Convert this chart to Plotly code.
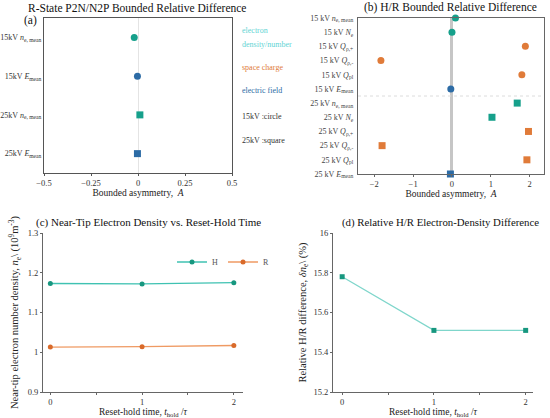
import plotly.graph_objects as go
from plotly.subplots import make_subplots

W, H = 550, 418
SERIF = "Liberation Serif"

# (a) R-State P2N/N2P bounded relative difference
a_labels = ["15kV <i>n</i><sub>e, mean</sub>", "15kV <i>E</i><sub>mean</sub>",
            "25kV <i>n</i><sub>e, mean</sub>", "25kV <i>E</i><sub>mean</sub>"]
a_values = [-0.02, -0.003, 0.01, -0.003]
a_kind = ["ne", "E", "ne", "E"]
a_kv = ["15", "15", "25", "25"]

# (b) H/R bounded relative difference
b_labels = ["15 kV <i>n</i><sub>e, mean</sub>", "15 kV <i>N</i><sub>e</sub>",
            "15 kV <i>Q</i><sub>ρ,+</sub>", "15 kV <i>Q</i><sub>ρ,-</sub>",
            "15 kV <i>Q</i><sub>pl</sub>", "15 kV <i>E</i><sub>mean</sub>",
            "25 kV <i>n</i><sub>e, mean</sub>", "25 kV <i>N</i><sub>e</sub>",
            "25 kV <i>Q</i><sub>ρ,+</sub>", "25 kV <i>Q</i><sub>ρ,-</sub>",
            "25 kV <i>Q</i><sub>pl</sub>", "25 kV <i>E</i><sub>mean</sub>"]
b_values = [0.09, 0.0, 1.89, -1.83, 1.80, -0.03, 1.68, 1.03, 1.97, -1.80, 1.93, -0.04]
b_kind = ["ne", "ne", "Q", "Q", "Q", "E", "ne", "ne", "Q", "Q", "Q", "E"]
b_kv = ["15"] * 6 + ["25"] * 6

# (c) near-tip electron density vs reset-hold time
hold_time = [0, 1, 2]
density_h = [1.173, 1.172, 1.175]
density_r = [1.013, 1.014, 1.017]

# (d) relative H/R electron-density difference (%)
rel_diff = [15.78, 15.51, 15.51]

# key text beside panel (a)
key_text = ["electron", "density/number", "space charge", "electric field",
            "15kV :circle", "25kV :square"]
key_kind = ["ne_txt", "ne_txt", "Q", "E", "txt", "txt"]

kind_color = {"ne": "#16a08b", "Q": "#e07b39", "E": "#2c6ba5",
              "ne_txt": "#63d4d4", "txt": "#333333"}
kv_symbol = {"15": "circle", "25": "square"}


def px(x):
    return x / W


def py(y):
    return 1 - y / H


fig = make_subplots(rows=2, cols=2)

fig.add_trace(go.Scatter(
    x=a_values, y=a_labels, mode="markers", showlegend=False,
    marker=dict(size=7, color=[kind_color[k] for k in a_kind],
                symbol=[kv_symbol[v] for v in a_kv])), 1, 1)

fig.add_trace(go.Scatter(
    x=b_values, y=b_labels, mode="markers", showlegend=False, cliponaxis=False,
    marker=dict(size=7, color=[kind_color[k] for k in b_kind],
                symbol=[kv_symbol[v] for v in b_kv])), 1, 2)

fig.add_trace(go.Scatter(
    x=hold_time, y=density_h, mode="lines+markers", name="H",
    line=dict(color="#3fc2b2", width=1.3),
    marker=dict(size=5, color="#17977f")), 2, 1)
fig.add_trace(go.Scatter(
    x=hold_time, y=density_r, mode="lines+markers", name="R",
    line=dict(color="#ef9a63", width=1.3),
    marker=dict(size=5, color="#d96a2a")), 2, 1)

fig.add_trace(go.Scatter(
    x=hold_time, y=rel_diff, mode="lines+markers", showlegend=False,
    line=dict(color="#7fd6cb", width=1.3),
    marker=dict(size=5, symbol="square", color="#17977f")), 2, 2)

tickfont = dict(family=SERIF, size=8.5, color="#333")
titlefont = dict(family=SERIF, size=9.5, color="#222")
common = dict(automargin=False, showgrid=False)

# panel (a)
fig.update_xaxes(row=1, col=1, domain=[px(44), px(232)], range=[-0.5, 0.5],
                 tickvals=[-0.5, -0.25, 0, 0.25, 0.5],
                 ticktext=["−0.5", "−0.25", "0", "0.25", "0.5"],
                 showline=True, linecolor="#555", linewidth=1, mirror=True,
                 ticks="outside", ticklen=2, tickcolor="#555",
                 zeroline=True, zerolinecolor="#e4e4e4", zerolinewidth=1,
                 tickfont=tickfont, **common,
                 title=dict(text="Bounded asymmetry,  <i>A</i>", font=titlefont, standoff=0))
fig.update_yaxes(row=1, col=1, domain=[py(173), py(18)], type="category",
                 range=[len(a_labels) - 0.5, -0.5],
                 showline=True, linecolor="#555", linewidth=1, mirror=True,
                 ticks="", tickfont=dict(family=SERIF, size=8, color="#333"), **common)

# panel (b)
fig.update_xaxes(row=1, col=2, domain=[px(358), px(544)], range=[-2.42, 2.37],
                 tickvals=[-2, -1, 0, 1, 2], ticktext=["−2", "−1", "0", "1", "2"],
                 showline=True, linecolor="#666", linewidth=1.3, mirror=True,
                 ticks="outside", ticklen=2, tickcolor="#666",
                 zeroline=True, zerolinecolor="#c6c6c6", zerolinewidth=3,
                 tickfont=tickfont, **common,
                 title=dict(text="Bounded asymmetry,  <i>A</i>", font=titlefont, standoff=0))
fig.update_yaxes(row=1, col=2, domain=[py(174), py(18)], type="category",
                 range=[len(b_labels) - 1, 0],
                 showline=True, linecolor="#666", linewidth=1.3, mirror=True,
                 ticks="", ticklabelstandoff=2,
                 tickfont=dict(family=SERIF, size=8, color="#444"), **common)

split = b_kv.count("15") - 0.5
fig.add_shape(type="line", xref="x2 domain", yref="y2", x0=0, x1=1, y0=split, y1=split,
              line=dict(color="#dcdcdc", width=1, dash="dot"))

xtitle_c = dict(text="Reset-hold time, <i>t</i><sub>hold</sub> /<i>τ</i>",
                font=dict(family=SERIF, size=9.5, color="#222"), standoff=6)

# panel (c)
fig.update_xaxes(row=2, col=1, domain=[px(43), px(243)], range=[-0.08, 2.1],
                 tickvals=[0, 1, 2], showline=True, linecolor="#666", linewidth=1,
                 ticks="outside", ticklen=2, tickcolor="#666",
                 minor=dict(tickvals=[0.5, 1.5], ticks="outside", ticklen=2, tickcolor="#666"),
                 zeroline=False, tickfont=tickfont, **common, title=xtitle_c)
fig.update_yaxes(row=2, col=1, domain=[py(392), py(233)], range=[0.9, 1.3],
                 tickvals=[0.9, 1.0, 1.1, 1.2, 1.3], ticktext=["0.9", "1", "1.1", "1.2", "1.3"],
                 showline=True, linecolor="#666", linewidth=1,
                 ticks="outside", ticklen=2, tickcolor="#666",
                 zeroline=False, tickfont=tickfont, **common,
                 title=dict(text="Near-tip electron number density, <i>n</i><sub>e</sub>\\ (10<sup>9</sup>m<sup>-3</sup>)",
                            font=dict(family=SERIF, size=10.5, color="#222"), standoff=6))

# panel (d)
fig.update_xaxes(row=2, col=2, domain=[px(333), px(533)], range=[-0.1, 2.08],
                 tickvals=[0, 1, 2], showline=True, linecolor="#666", linewidth=1,
                 ticks="outside", ticklen=2, tickcolor="#666",
                 minor=dict(tickvals=[0.5, 1.5], ticks="outside", ticklen=2, tickcolor="#666"),
                 zeroline=False, tickfont=tickfont, **common, title=xtitle_c)
fig.update_yaxes(row=2, col=2, domain=[py(392), py(233)], range=[15.2, 16],
                 tickvals=[15.2, 15.4, 15.6, 15.8, 16],
                 showline=True, linecolor="#666", linewidth=1,
                 ticks="outside", ticklen=2, tickcolor="#666",
                 zeroline=False, tickfont=tickfont, **common,
                 title=dict(text="Relative H/R difference, <i>δn</i><sub>e</sub>\\ (%)",
                            font=dict(family=SERIF, size=10.5, color="#222"), standoff=4))

titles = [
    ("R-State P2N/N2P Bounded Relative Difference", 137, 8, 11.5),
    ("(b) H/R Bounded Relative Difference", 450, 8, 11.5),
    ("(c) Near-Tip Electron Density vs. Reset-Hold Time", 148, 223, 11),
    ("(d) Relative H/R Electron-Density Difference", 441, 223, 10.8),
]
for text, x, y, size in titles:
    fig.add_annotation(text=text, x=px(x), y=py(y), xref="paper", yref="paper",
                       showarrow=False, xanchor="center", yanchor="middle",
                       font=dict(family=SERIF, size=size, color="#111"))
fig.add_annotation(text="(a)", x=px(22), y=py(20), xref="paper", yref="paper",
                   showarrow=False, xanchor="left", yanchor="middle",
                   font=dict(family=SERIF, size=11.5, color="#111"))

for text, kind, y in zip(key_text, key_kind, [30, 45, 67, 91, 116, 140]):
    fig.add_annotation(text=text, x=px(240), y=py(y), xref="paper", yref="paper",
                       showarrow=False, xanchor="left", yanchor="middle",
                       font=dict(family=SERIF, size=8, color=kind_color[kind]))

fig.update_layout(
    width=W, height=H, margin=dict(l=0, r=0, t=0, b=0),
    paper_bgcolor="white", plot_bgcolor="white",
    font=dict(family=SERIF, color="#222"),
    legend=dict(orientation="h", x=px(172), y=py(262), xanchor="left", yanchor="middle",
                itemwidth=30, font=dict(family=SERIF, size=8, color="#555"),
                bgcolor="rgba(0,0,0,0)", tracegroupgap=0),
)

# the page's default body margin would push the 550x418 figure out of the window
fig.write_html("out.html", config={"displayModeBar": False},
               post_script="document.body.style.margin = '0';")
